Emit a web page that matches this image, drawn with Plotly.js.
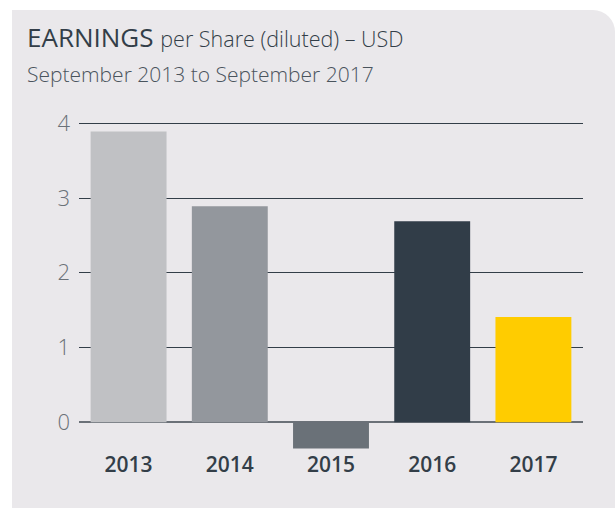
<!DOCTYPE html>
<html>
<head>
<meta charset="utf-8">
<script src="https://cdn.plot.ly/plotly-3.0.1.min.js"></script>
<style>
  html, body { margin: 0; padding: 0; background: #ffffff; }
  #panel { position: absolute; left: 12px; top: 10px; width: 603px; height: 498px; background: #eae8eb; border-top-right-radius: 22px; }
  #chart { position: absolute; left: 0; top: 0; width: 615px; height: 509px; }
</style>
</head>
<body>
<div id="panel"></div>
<div id="chart"></div>
<script>
const years = ['2013', '2014', '2015', '2016', '2017'];
const eps = [3.89, 2.89, -0.35, 2.69, 1.41];
const barColors = ['#c0c1c4', '#93979d', '#6a7178', '#313d48', '#ffcc00'];
const yTicks = [0, 1, 2, 3, 4];
const titleMain = 'EARNINGS';
const titleRest = 'per Share (diluted) – USD';
const subtitle = 'September 2013 to September 2017';

const W = 615, H = 509;
const m = { l: 79, r: 32, t: 121, b: 58.6 };
const plotW = W - m.l - m.r, plotH = H - m.t - m.b;
const px2x = x => (x - m.l) / plotW;
const px2y = y => (H - m.b - y) / plotH;

const trace = {
  type: 'bar',
  x: years,
  y: eps,
  marker: { color: barColors, line: { width: 0 } },
  hoverinfo: 'skip'
};

const layout = {
  width: W, height: H,
  margin: m,
  paper_bgcolor: 'rgba(0,0,0,0)',
  plot_bgcolor: 'rgba(0,0,0,0)',
  showlegend: false,
  bargap: 0.25,
  font: { family: '"Open Sans", sans-serif' },
  xaxis: {
    type: 'category',
    range: [-0.49, 4.49],
    showgrid: false, zeroline: false, showline: false, ticks: '',
    tickfont: { size: 21, color: '#333e48', weight: 600, family: '"Open Sans", sans-serif' }
  },
  yaxis: {
    range: [-0.37, 4.03],
    tickvals: yTicks,
    ticktext: yTicks.map(String),
    showgrid: true, gridcolor: '#333e48', gridwidth: 1,
    zeroline: true, zerolinecolor: '#6b7178', zerolinewidth: 2,
    showline: false, ticks: '',
    ticklabelstandoff: 8,
    tickfont: { size: 22, color: '#6a7178', weight: 300, family: '"Open Sans", sans-serif' }
  },
  annotations: [
    {
      xref: 'paper', yref: 'paper', x: px2x(25), y: px2y(37), xanchor: 'left', yanchor: 'middle',
      showarrow: false, align: 'left',
      text: '<span style="font-size:26px;font-weight:400">' + titleMain + '</span> <span style="font-size:21.5px;font-weight:300">' + titleRest + '</span>',
      font: { family: '"Open Sans", sans-serif', size: 26, color: '#333e48' }
    },
    {
      xref: 'paper', yref: 'paper', x: px2x(25), y: px2y(74), xanchor: 'left', yanchor: 'middle',
      showarrow: false, align: 'left',
      text: subtitle,
      font: { family: '"Open Sans", sans-serif', size: 21, color: '#4a545d', weight: 300 }
    }
  ]
};

Plotly.newPlot('chart', [trace], layout, { displayModeBar: false, staticPlot: true });
</script>
</body>
</html>
